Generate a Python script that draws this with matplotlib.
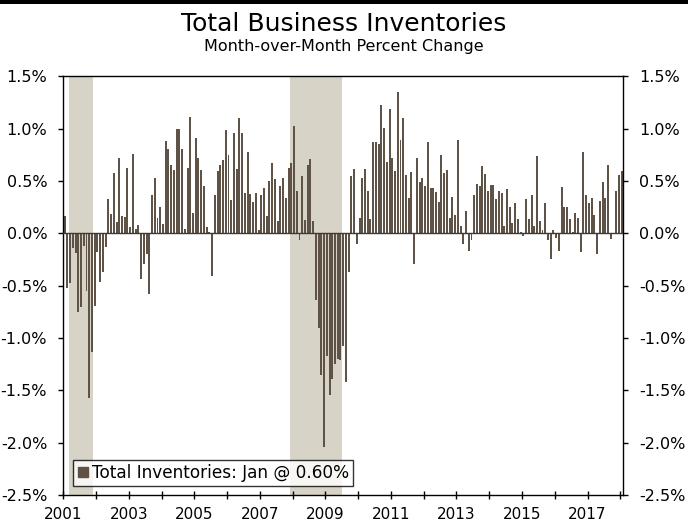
import numpy as np
import matplotlib.pyplot as plt
from matplotlib.lines import Line2D

# month-over-month % change, Jan 2001 .. Jan 2018
y2001 = [0.17, -0.52, -0.47, -0.14, -0.19, -0.75, -0.70, -0.12, -0.55, -1.57, -1.13, -0.69]
y2002 = [-0.18, -0.46, -0.37, -0.13, 0.33, 0.19, 0.58, 0.11, 0.72, 0.17, 0.16, 0.63]
y2003 = [0.06, 0.76, 0.04, 0.08, -0.44, -0.29, -0.20, -0.58, 0.37, 0.53, 0.15, 0.25]
y2004 = [0.09, 0.88, 0.81, 0.65, 0.61, 1.00, 1.00, 0.81, 0.04, 0.63, 1.11, 0.20]
y2005 = [0.91, 0.72, 0.61, 0.45, 0.06, 0.01, -0.41, 0.37, 0.60, 0.65, 0.70, 0.99]
y2006 = [0.75, 0.32, 0.96, 0.62, 1.10, 0.96, 0.39, 0.78, 0.38, 0.30, 0.39, 0.03]
y2007 = [0.37, 0.43, 0.17, 0.50, 0.67, 0.52, 0.12, 0.45, 0.53, 0.34, 0.63, 0.67]
y2008 = [1.03, 0.41, -0.06, 0.55, 0.13, 0.65, 0.71, 0.12, -0.64, -0.90, -1.35, -2.04]
y2009 = [-1.17, -1.54, -1.39, -1.25, -1.20, -1.21, -1.08, -1.42, -0.37, 0.55, 0.62, -0.10]
y2010 = [0.15, 0.53, 0.62, 0.41, 0.14, 0.87, 0.87, 0.85, 1.23, 1.01, 0.68, 1.19]
y2011 = [0.72, 0.60, 1.35, 0.89, 1.10, 0.56, 0.34, 0.59, -0.29, 0.72, 0.49, 0.53]
y2012 = [0.45, 0.87, 0.43, 0.43, 0.40, 0.30, 0.75, 0.58, 0.61, 0.15, 0.35, 0.18]
y2013 = [0.89, 0.07, -0.10, 0.21, -0.17, -0.06, 0.37, 0.47, 0.45, 0.64, 0.57, 0.41]
y2014 = [0.46, 0.46, 0.33, 0.41, 0.39, 0.07, 0.42, 0.25, 0.10, 0.29, 0.14, 0.01]
y2015 = [-0.02, 0.33, 0.14, 0.37, 0.07, 0.74, 0.12, 0.03, 0.29, -0.06, -0.24, 0.03]
y2016 = [-0.04, -0.17, 0.44, 0.25, 0.25, 0.14, 0.01, 0.20, 0.15, -0.18, 0.78, 0.37]
y2017 = [0.29, 0.34, 0.18, -0.20, 0.31, 0.49, 0.34, 0.65, -0.05, 0.00, 0.41, 0.56]
y2018 = [0.60]

values = (y2001 + y2002 + y2003 + y2004 + y2005 + y2006 + y2007 + y2008 + y2009
          + y2010 + y2011 + y2012 + y2013 + y2014 + y2015 + y2016 + y2017 + y2018)

# recessions as (first month index, last month index)
recessions = [(2, 10), (83, 101)]

years = list(range(2001, 2019))
ytick_vals = [-2.5, -2.0, -1.5, -1.0, -0.5, 0.0, 0.5, 1.0, 1.5]

bar_color = '#5f5348'
shade_color = '#d8d3c7'

fig = plt.figure(figsize=(6.88, 5.29), dpi=100)
ax = fig.add_axes([0.092, 0.0643, 0.814, 0.7911])

x = np.arange(len(values)) + 0.5
for a, b in recessions:
    ax.axvspan(a, b + 1, color=shade_color, lw=0, zorder=0)
ax.bar(x, values, width=0.72, color=bar_color, lw=0, zorder=2)
ax.axhline(0, color='#3a3a3a', lw=1, zorder=3)

ax.set_xlim(0, 205.1)
ax.set_ylim(-2.5, 1.5)

ax.set_yticks(ytick_vals)
ax.set_yticklabels(['%.1f%%' % v for v in ytick_vals])
ax.tick_params(axis='y', direction='out', length=3.6, width=1, labelsize=11.5,
               left=True, right=True, labelleft=True, labelright=True, pad=8)

major = [12 * (yr - 2001) for yr in years]
ax.set_xticks(major)
ax.set_xticklabels([str(yr) if (yr - 2001) % 2 == 0 else '' for yr in years])
ax.tick_params(axis='x', direction='inout', length=6, width=1, labelsize=11, pad=6)

for s in ax.spines.values():
    s.set_linewidth(1)
    s.set_color('black')

handle = Line2D([], [], marker='s', color='none', markerfacecolor=bar_color,
                markeredgecolor=bar_color, markersize=7)
leg = ax.legend([handle], ['Total Inventories: Jan @ 0.60%'], loc='lower left',
                bbox_to_anchor=(0.018, 0.021), fontsize=12.2, frameon=True,
                fancybox=False, handlelength=0.6, handletextpad=0.25,
                borderpad=0.25, borderaxespad=0)
leg.get_frame().set_edgecolor('black')
leg.get_frame().set_linewidth(1)

fig.text(0.5, 0.9414, 'Total Business Inventories', ha='center', va='baseline', fontsize=18)
fig.text(0.5, 0.9045, 'Month-over-Month Percent Change', ha='center', va='baseline', fontsize=11.5)

# black band at the very top of the image
fig.add_artist(plt.Rectangle((0, 0.9925), 1, 0.0075, transform=fig.transFigure,
                             color='black', lw=0))

fig.savefig('out.png', dpi=100)
